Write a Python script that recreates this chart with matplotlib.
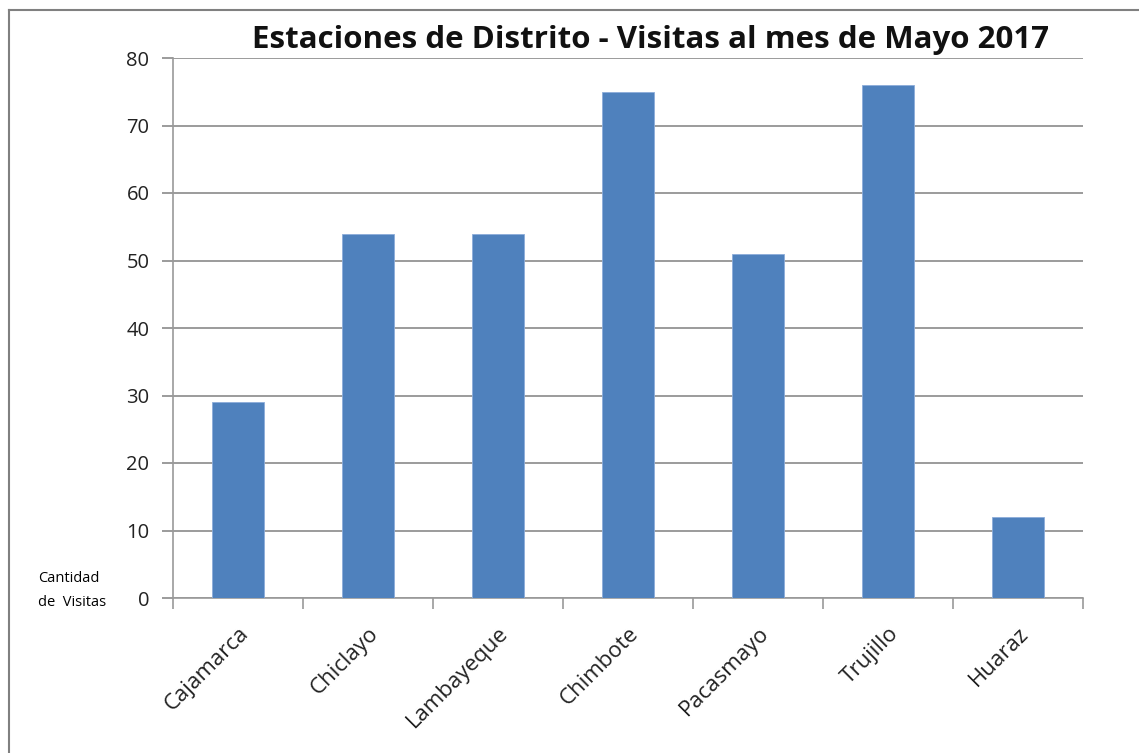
import matplotlib.pyplot as plt
from matplotlib.lines import Line2D

# data
estaciones = ['Cajamarca', 'Chiclayo', 'Lambayeque', 'Chimbote', 'Pacasmayo', 'Trujillo', 'Huaraz']
visitas = [29, 54, 54, 75, 51, 76, 12]
y_ticks = [0, 10, 20, 30, 40, 50, 60, 70, 80]

W, H = 1139, 753
fig = plt.figure(figsize=(W / 100, H / 100), dpi=100)
plt.rcParams['font.family'] = ['Open Sans', 'DejaVu Sans']

# axes box in pixels: left 173, right 1083, top 58, bottom 598
ax = fig.add_axes([173 / W, 1 - 598 / H, (1083 - 173) / W, (598 - 58) / H])

x = list(range(len(estaciones)))
ax.bar(x, visitas, width=0.4, color='#4F81BD', edgecolor='#8CADDA', linewidth=0.6, zorder=3)

ax.set_xlim(-0.5, len(estaciones) - 0.5)
ax.set_ylim(0, 80)
ax.set_yticks(y_ticks)
ax.set_yticklabels([str(v) for v in y_ticks], fontsize=14.5, color='#222222')
ax.yaxis.grid(True, color='#8a8a8a', linewidth=1.2, zorder=0)

# x ticks at category boundaries, labels at centers
ax.set_xticks([i - 0.5 for i in range(len(estaciones) + 1)])
ax.set_xticklabels([])
ax.set_xticks(x, minor=True)
ax.set_xticklabels(estaciones, minor=True, rotation=45, ha='right', va='top',
                   rotation_mode='anchor', fontsize=16, color='#222222')
ax.tick_params(axis='x', which='minor', length=0, pad=18)
ax.tick_params(axis='x', which='major', length=8, color='#9a9a9a', width=1.2)
ax.tick_params(axis='y', length=8, color='#8a8a8a', width=1.2, pad=9)

for side in ['top', 'right']:
    ax.spines[side].set_visible(False)
for side in ['left', 'bottom']:
    ax.spines[side].set_color('#9a9a9a')
    ax.spines[side].set_linewidth(1.2)

fig.text(650 / W, 1 - 40 / H, 'Estaciones de Distrito - Visitas al mes de Mayo 2017',
         ha='center', va='center', fontsize=22.5, fontweight='bold', color='#111111')
fig.text(38 / W, 1 - 579 / H, 'Cantidad', ha='left', va='center', fontsize=10.5)
fig.text(38 / W, 1 - 602 / H, 'de  Visitas', ha='left', va='center', fontsize=10.5)

# outer chart frame (left and top edges)
fig.add_artist(Line2D([9 / W, 9 / W], [0, 1 - 10 / H], transform=fig.transFigure,
                      color='#808080', linewidth=1.5))
fig.add_artist(Line2D([9 / W, 1], [1 - 10 / H, 1 - 10 / H], transform=fig.transFigure,
                      color='#808080', linewidth=1.5))

fig.savefig('out.png', dpi=100)
